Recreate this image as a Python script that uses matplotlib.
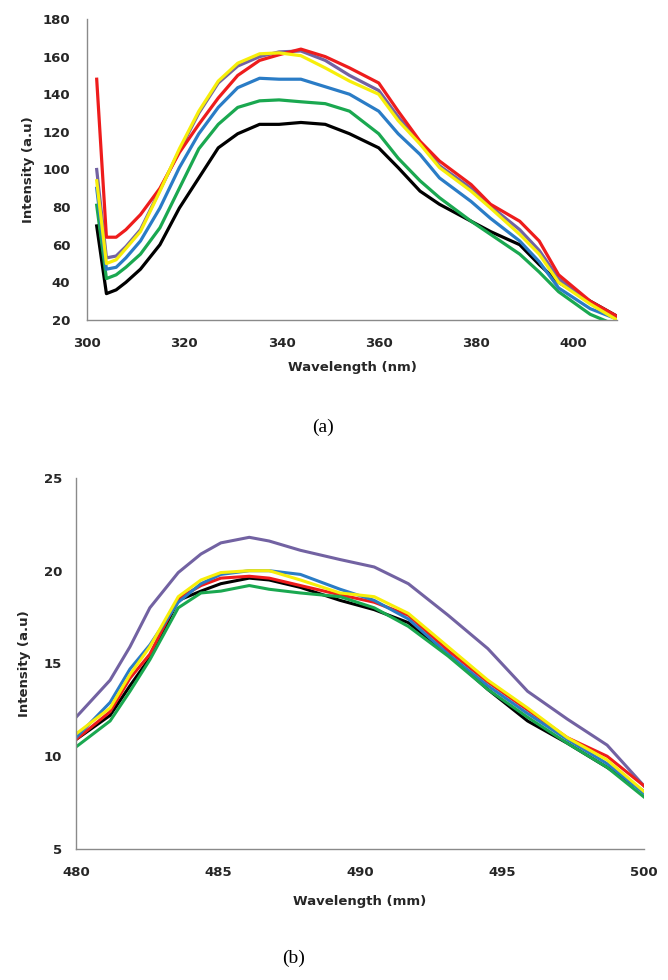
import matplotlib
matplotlib.use("Agg")
import matplotlib.pyplot as plt

# (a) excitation/emission spectra, 300-410 nm
wl_a = [302, 304, 306, 308, 311, 315, 319, 323, 327, 331, 335.5, 339.5, 344,
        349, 354, 360, 364, 368.5, 372.5, 379, 383, 389, 393, 397, 403.5, 409]
black_a = [70, 34, 36, 40, 47, 60, 79.5, 95.5, 111.5, 119, 124, 124, 125,
           124, 119, 111.5, 101, 88.5, 81.5, 72.5, 67, 60, 49.5, 40, 30, 22]
green_a = [81, 42, 44, 48, 55, 69, 90, 111, 124, 133, 136.5, 137, 136,
           135, 131, 119, 106, 94, 85, 72.5, 65.5, 55, 45.5, 35, 23, 17]
blue_a = [90, 47, 48, 53, 62, 79.5, 101, 119, 133, 143.5, 148.5, 148, 148,
          144, 140, 131, 119, 108, 95.5, 83, 74, 62, 51, 37, 26, 20.5]
purple_a = [100, 53, 54, 59, 68, 89, 110, 130, 146, 155, 160, 162.5, 163,
            158, 150, 142, 128, 114, 102, 90, 80.5, 68, 57, 42, 29, 21]
red_a = [148, 64, 64, 68, 76, 90, 109, 124, 138, 150, 158, 161, 164,
         160, 154, 146, 131, 115, 104.5, 92, 81.5, 72.5, 62, 44, 30, 22]
yellow_a = [94, 50, 52, 58, 67, 88.5, 111, 131, 147, 156.5, 161.5, 162, 160.5,
            154, 147, 140, 126, 113.5, 101, 88.5, 79.5, 65.5, 55, 40, 28.5, 20]

# (b) 480-500
wl_b = [480, 481.2, 481.9, 482.6, 483.6, 484.4, 485.1, 486.1, 486.8, 487.9,
        489.3, 490.5, 491.7, 493.1, 494.5, 495.9, 497.3, 498.7, 500]
purple_b = [12.1, 14.1, 15.9, 18.0, 19.9, 20.9, 21.5, 21.8, 21.6, 21.1,
            20.6, 20.2, 19.3, 17.6, 15.8, 13.5, 12.0, 10.6, 8.4]
black_b = [10.9, 12.2, 13.8, 15.3, 18.4, 18.9, 19.3, 19.6, 19.5, 19.1,
           18.4, 17.9, 17.2, 15.5, 13.6, 11.9, 10.7, 9.4, 8.1]
red_b = [10.9, 12.4, 14.2, 15.5, 18.5, 19.2, 19.6, 19.7, 19.6, 19.2,
         18.7, 18.3, 17.6, 15.7, 14.0, 12.5, 11.0, 10.0, 8.4]
blue_b = [11.0, 12.9, 14.7, 16.0, 18.3, 19.3, 19.8, 20.0, 20.0, 19.8,
          19.0, 18.4, 17.4, 15.5, 13.8, 12.3, 10.9, 9.6, 8.0]
green_b = [10.5, 11.9, 13.5, 15.2, 18.0, 18.8, 18.9, 19.2, 19.0, 18.8,
           18.6, 18.0, 17.0, 15.4, 13.6, 12.1, 10.7, 9.4, 7.8]
yellow_b = [11.2, 12.6, 14.4, 15.9, 18.6, 19.5, 19.9, 20.0, 20.0, 19.5,
            18.8, 18.6, 17.7, 15.9, 14.1, 12.6, 11.0, 9.8, 8.1]

C_BLACK = "#000000"
C_GREEN = "#1aa850"
C_BLUE = "#2a7cc6"
C_PURPLE = "#7262a2"
C_RED = "#ee1c1c"
C_YELLOW = "#f7ee0a"

FONT = "DejaVu Sans"
lab_font = dict(family=FONT, weight="bold", size=9.5, color="#262626")


def style(ax, xpad, ypad):
    for s in ["top", "right"]:
        ax.spines[s].set_visible(False)
    for s in ["left", "bottom"]:
        ax.spines[s].set_color("#8a8a8a")
        ax.spines[s].set_linewidth(1.0)
    ax.tick_params(axis="x", length=0, pad=xpad)
    ax.tick_params(axis="y", length=0, pad=ypad)
    for t in ax.get_xticklabels() + ax.get_yticklabels():
        t.set_fontfamily(FONT)
        t.set_fontweight("bold")
        t.set_fontsize(9.5)
        t.set_color("#262626")


fig = plt.figure(figsize=(6.68, 9.8), dpi=100)

# ---- (a) ----
ax1 = fig.add_axes([0.1302, 0.6735, 0.7934, 0.3071])
lw = 2.3
ax1.plot(wl_a, black_a, color=C_BLACK, lw=lw)
ax1.plot(wl_a, green_a, color=C_GREEN, lw=lw)
ax1.plot(wl_a, blue_a, color=C_BLUE, lw=lw)
ax1.plot(wl_a, purple_a, color=C_PURPLE, lw=lw)
ax1.plot(wl_a, red_a, color=C_RED, lw=lw)
ax1.plot(wl_a, yellow_a, color=C_YELLOW, lw=lw)
ax1.set_xlim(300, 409)
ax1.set_ylim(20, 180)
ax1.set_xticks([300, 320, 340, 360, 380, 400])
ax1.set_yticks(range(20, 181, 20))
style(ax1, 12, 12)
ax1.set_xlabel("Wavelength (nm)", **lab_font)
ax1.set_ylabel("Intensity (a.u)", **lab_font)
ax1.xaxis.set_label_coords(0.5, -0.135)
ax1.yaxis.set_label_coords(-0.098, 0.5)
fig.text(0.484, 1 - 427 / 980, "(a)", ha="center", va="center",
         family="Liberation Serif", fontsize=14)

# ---- (b) ----
ax2 = fig.add_axes([0.1138, 0.1337, 0.8503, 0.3786])
lw = 2.2
ax2.plot(wl_b, purple_b, color=C_PURPLE, lw=lw)
ax2.plot(wl_b, black_b, color=C_BLACK, lw=lw)
ax2.plot(wl_b, red_b, color=C_RED, lw=lw)
ax2.plot(wl_b, blue_b, color=C_BLUE, lw=lw)
ax2.plot(wl_b, green_b, color=C_GREEN, lw=lw)
ax2.plot(wl_b, yellow_b, color=C_YELLOW, lw=lw)
ax2.set_xlim(480, 500)
ax2.set_ylim(5, 25)
ax2.set_xticks([480, 485, 490, 495, 500])
ax2.set_yticks([5, 10, 15, 20, 25])
style(ax2, 12, 10)
ax2.set_xlabel("Wavelength (mm)", **lab_font)
ax2.set_ylabel("Intensity (a.u)", **lab_font)
ax2.xaxis.set_label_coords(0.5, -0.125)
ax2.yaxis.set_label_coords(-0.08, 0.5)
fig.text(0.439, 1 - 958 / 980, "(b)", ha="center", va="center",
         family="Liberation Serif", fontsize=14)

fig.savefig("out.png", dpi=100)
